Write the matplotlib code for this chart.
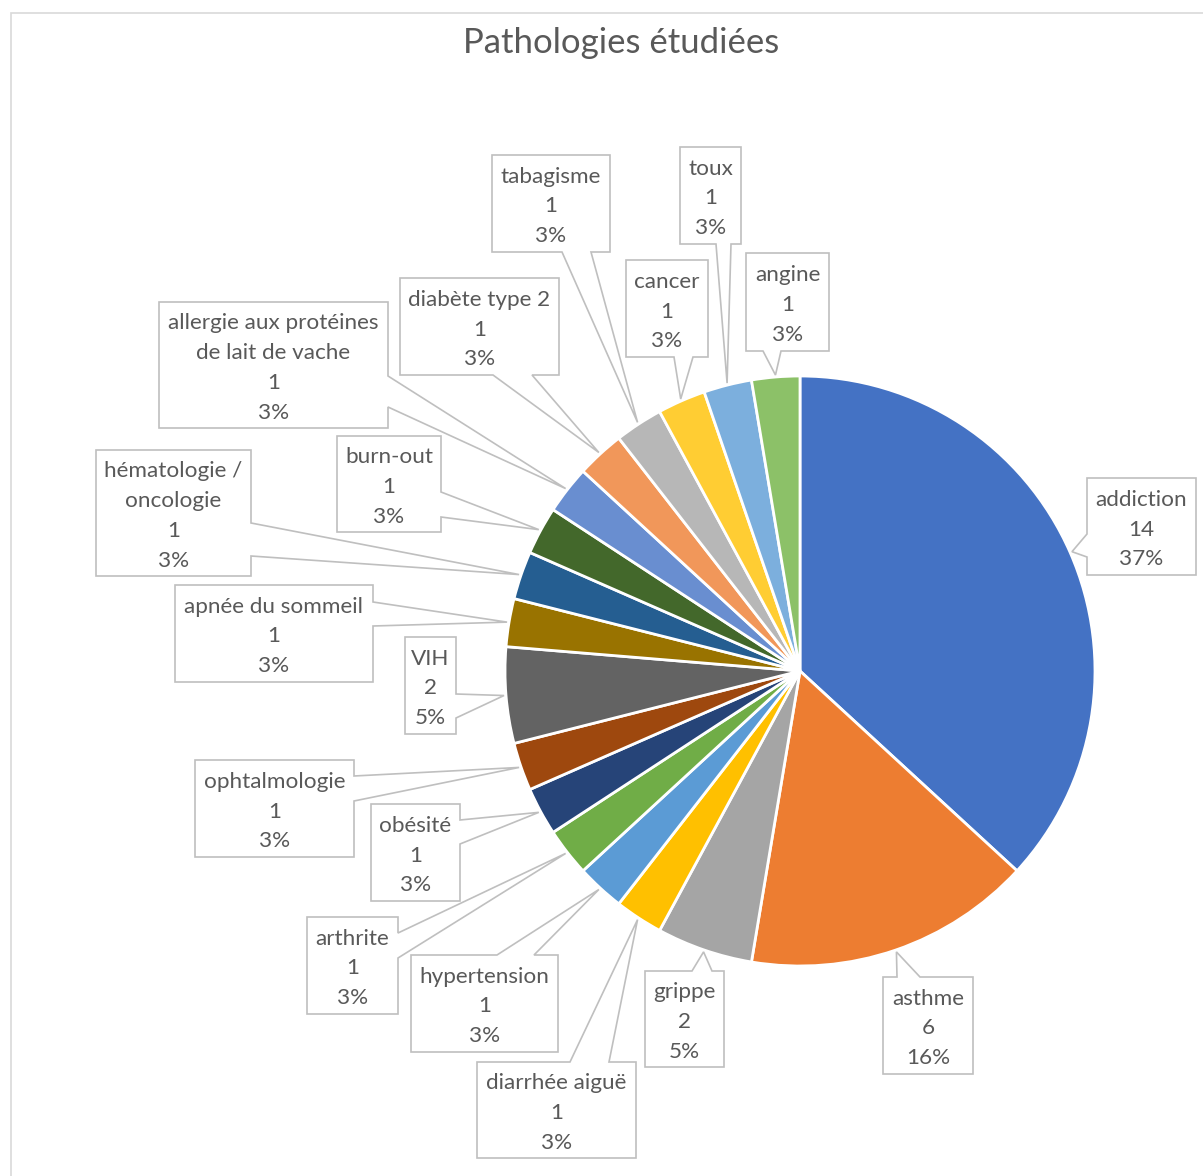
import matplotlib
matplotlib.use("Agg")
import matplotlib.pyplot as plt
from matplotlib.patches import Polygon, Rectangle
import numpy as np

# ---------------- data ----------------
title = "Pathologies étudiées"
categories = ["addiction", "asthme", "grippe", "diarrhée aiguë", "hypertension",
              "arthrite", "obésité", "ophtalmologie", "VIH", "apnée du sommeil",
              "hématologie / oncologie", "burn-out",
              "allergie aux protéines de lait de vache", "diabète type 2",
              "tabagisme", "cancer", "toux", "angine"]
values = [14, 6, 2, 1, 1, 1, 1, 1, 2, 1, 1, 1, 1, 1, 1, 1, 1, 1]
colors = ["#4472C4", "#ED7D31", "#A5A5A5", "#FFC000", "#5B9BD5", "#70AD47",
          "#264478", "#9E480E", "#636363", "#997300", "#255E91", "#43682B",
          "#698ED0", "#F1975A", "#B7B7B7", "#FFCD33", "#7CAFDD", "#8CC168"]
line_breaks = {"hématologie / oncologie": "hématologie /\noncologie",
               "allergie aux protéines de lait de vache": "allergie aux protéines\nde lait de vache"}

# ---------------- layout (pixel coords) ----------------
W, H = 1203, 1176
CX, CY, R = 800, 671, 295
# box: x0, y0, x1, y1, side of pointer, pointer base start, pointer base end
boxes = [
    (1087, 478, 1196, 575, "left", 534, 557),     # addiction
    (883, 977, 973, 1074, "top", 897, 920),       # asthme
    (645, 971, 724, 1067, "top", 692, 712),       # grippe
    (477, 1062, 636, 1158, "top", 570, 609),      # diarrhée
    (411, 955, 558, 1052, "top", 497, 534),       # hypertension
    (307, 917, 398, 1014, "right", 933, 958),     # arthrite
    (371, 804, 460, 901, "right", 820, 844),      # obésité
    (195, 760, 354, 857, "right", 776, 801),      # ophtalmologie
    (405, 637, 456, 734, "right", 694, 718),      # VIH
    (175, 585, 373, 682, "right", 602, 626),      # apnée
    (96, 450, 251, 576, "right", 523, 556),       # hématologie
    (337, 436, 441, 532, "right", 492, 517),      # burn-out
    (159, 302, 388, 428, "right", 376, 407),      # allergie
    (400, 278, 559, 375, "bottom", 493, 532),     # diabète
    (492, 155, 610, 252, "bottom", 562, 591),     # tabagisme
    (626, 260, 708, 357, "bottom", 674, 693),     # cancer
    (680, 147, 741, 244, "bottom", 716, 731),     # toux
    (746, 253, 829, 351, "bottom", 763, 781),     # angine
]

FONT = ["Lato", "DejaVu Sans"]
TXT = "#595959"
EDGE = "#BFBFBF"

fig = plt.figure(figsize=(W / 100, H / 100), dpi=100)
ax = fig.add_axes([0, 0, 1, 1])


def Y(y):
    return H - y


ax.pie(values, colors=colors, startangle=90, counterclock=False,
       center=(CX, Y(CY)), radius=R,
       wedgeprops=dict(edgecolor="white", linewidth=2, joinstyle="miter"))

ax.set_xlim(0, W)
ax.set_ylim(0, H)
ax.set_aspect("equal")
ax.axis("off")

# chart frame
ax.add_patch(Rectangle((10.5, -20), W + 20, H + 20 - 12.5,
                       fill=False, edgecolor="#D9D9D9", linewidth=1.2, zorder=0))

ax.text(621, Y(43), title, ha="center", va="center", fontsize=25,
        color=TXT, family=FONT)

total = sum(values)
cum = np.cumsum([0] + values[:-1])
for i, (cat, v) in enumerate(zip(categories, values)):
    x0, y0, x1, y1, side, a, b = boxes[i]
    mid = (cum[i] + v / 2) / total
    th = np.deg2rad(90 - 360 * mid)
    tx = CX + (R + 2) * np.cos(th)
    ty = CY - (R + 2) * np.sin(th)
    tip = (tx, ty)
    pts = [(x0, y0)]
    if side == "top":
        pts += [(a, y0), tip, (b, y0)]
    pts.append((x1, y0))
    if side == "right":
        pts += [(x1, a), tip, (x1, b)]
    pts.append((x1, y1))
    if side == "bottom":
        pts += [(b, y1), tip, (a, y1)]
    pts.append((x0, y1))
    if side == "left":
        pts += [(x0, b), tip, (x0, a)]
    pts = [(px, Y(py)) for px, py in pts]
    ax.add_patch(Polygon(pts, closed=True, facecolor="white", edgecolor=EDGE,
                         linewidth=1.2, joinstyle="miter", zorder=5))
    name = line_breaks.get(cat, cat)
    pct = round(100 * v / total)
    label = f"{name}\n{v}\n{pct}%"
    ax.text((x0 + x1) / 2, Y((y0 + y1) / 2 + 3), label, ha="center", va="center",
            fontsize=16.2, color=TXT, family=FONT, linespacing=1.62, zorder=6)

fig.savefig("out.png", dpi=100, facecolor="white")
